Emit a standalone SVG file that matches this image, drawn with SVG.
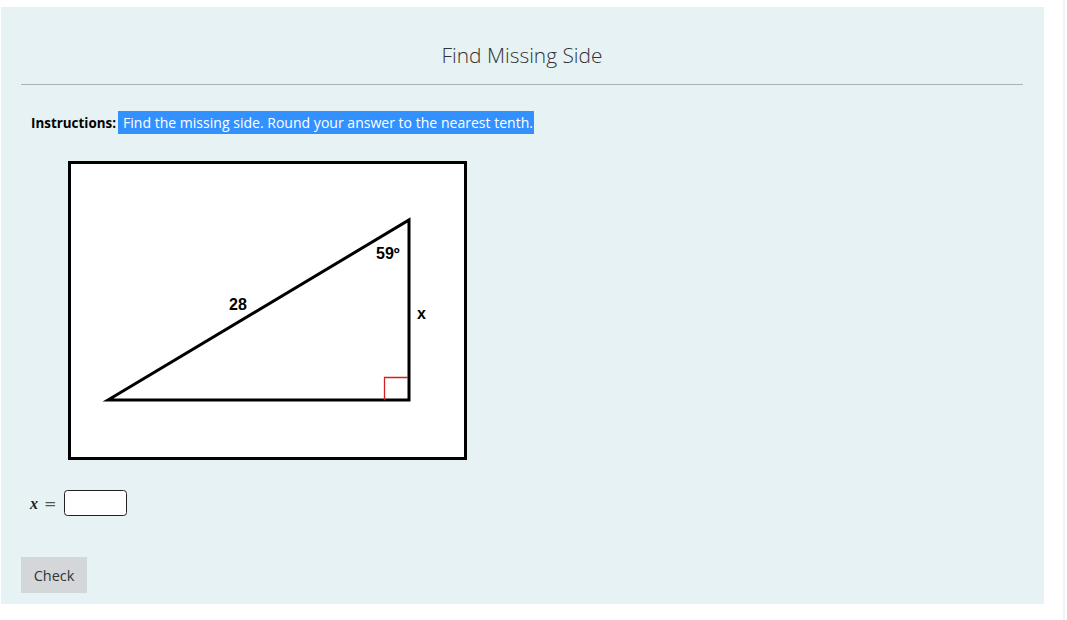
<svg xmlns="http://www.w3.org/2000/svg" width="1067" height="620" viewBox="0 0 1067 620">
<style>
.ui{font-family:"Open Sans","Noto Sans","Liberation Sans",sans-serif;}
.lbl{font-family:"Liberation Sans",Arial,sans-serif;font-weight:bold;font-size:16px;fill:#000;}
.edge{stroke:#000;stroke-width:3;fill:none;stroke-linejoin:miter;}
</style>
<rect x="0" y="0" width="1067" height="620" fill="#ffffff"/>
<rect x="1" y="7" width="1043" height="597" fill="#e7f2f4"/>
<line x1="1064" y1="0" x2="1064" y2="620" stroke="#e6e6e6" stroke-width="1"/>
<g id="title">
<text class="ui" x="522" y="63" text-anchor="middle" font-size="21" font-weight="300" fill="#333" textLength="161" lengthAdjust="spacingAndGlyphs">Find Missing Side</text>
<line x1="21" y1="84.5" x2="1023" y2="84.5" stroke="#a9b1b4" stroke-width="1"/>
</g>
<g id="instructions">
<rect x="118" y="111" width="416" height="23" fill="#3390ff"/>
<text class="ui" x="31" y="128" font-size="14.5" font-weight="bold" fill="#000" textLength="85" lengthAdjust="spacingAndGlyphs">Instructions:</text>
<text class="ui" x="123" y="128" font-size="14.5" fill="#ffffff" textLength="410" lengthAdjust="spacingAndGlyphs">Find the missing side. Round your answer to the nearest tenth.</text>
</g>
<g id="figure">
<rect x="69.5" y="162.5" width="396" height="296" fill="#ffffff" stroke="#000" stroke-width="3"/>
<g id="triangle">
<polygon class="edge" points="108,400 409,220 409,400"/>
<polyline points="384.5,400 384.5,377.5 408,377.5" fill="none" stroke="#d42020" stroke-width="1.3"/>
</g>
<text class="lbl" x="376" y="259">59º</text>
<text class="lbl" x="229" y="310">28</text>
<text class="lbl" x="417" y="319">x</text>
</g>
<g id="answer">
<text x="30" y="509" font-family="'Liberation Serif',serif" font-style="italic" font-weight="bold" font-size="16" fill="#222">x</text>
<text x="44" y="509" font-family="'DejaVu Serif','Liberation Serif',serif" font-size="15" fill="#555">=</text>
<rect x="64.5" y="490.5" width="62" height="25" rx="3" fill="#ffffff" stroke="#222" stroke-width="1"/>
</g>
<g id="check">
<rect x="21" y="557" width="66" height="36" fill="#d4d7da"/>
<text class="ui" x="54" y="581" text-anchor="middle" font-size="14.5" fill="#333">Check</text>
</g>
</svg>
